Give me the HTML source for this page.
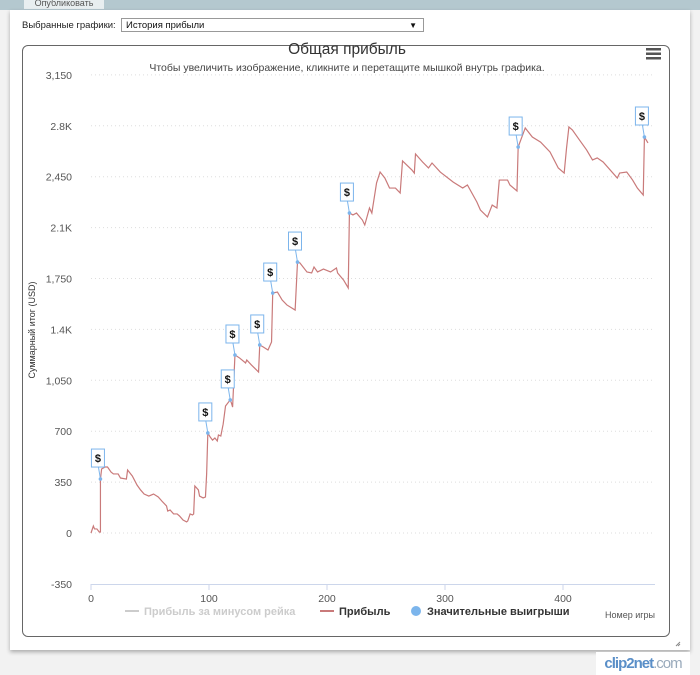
<!DOCTYPE html>
<html><head><meta charset="utf-8">
<style>
body{margin:0;width:700px;height:675px;background:#f2f2f2;font-family:"Liberation Sans","DejaVu Sans",sans-serif;position:relative;overflow:hidden}
.top{position:absolute;left:0;top:0;width:700px;height:10px;background:#b4c8cf}
.tab{position:absolute;left:24px;top:0;width:80px;height:9px;background:#e8eef0;font-size:9px;color:#555;text-align:center;line-height:6px;overflow:hidden}
.panel{position:absolute;left:10px;top:10px;width:680px;height:640px;background:#fff;box-shadow:0 2px 4px rgba(0,0,0,.3)}
.sel-label{position:absolute;left:22px;top:20px;font-size:9.5px;color:#222}
.sel{position:absolute;left:121px;top:18px;width:303px;height:14px;border:1px solid #999;background:#fff;font-size:9.5px;line-height:14px;padding-left:4px;box-sizing:border-box;color:#111}
.sel span{position:absolute;right:6px;top:0;font-size:8px}
.chart{position:absolute;left:22px;top:45px;width:648px;height:592px;border:1px solid #666;border-radius:6px;box-sizing:border-box}
.logo{position:absolute;left:596px;top:652px;width:94px;height:23px;background:#fff;font-size:15px;line-height:23px;text-align:center;color:#5a8fc8;font-weight:bold;letter-spacing:-1px}
.logo i{font-style:normal;color:#9ab;font-weight:normal}
</style></head><body>
<div class="top"><div class="tab">Опубликовать</div></div>
<div class="panel"></div>
<div class="sel-label">Выбранные графики:</div>
<div class="sel">История прибыли<span>▼</span></div>
<div class="chart"></div>
<svg id="svg" width="700" height="675" style="position:absolute;left:0;top:0"></svg>
<div class="logo">clip2net<i>.com</i></div>
<script>
const games=[0,2,3,5,7,8,8,9,12,14,17,19,23,25,30,31,35,39,42,45,49,53,57,60,64,65,67,70,73,75,78,81,82,84,86,87,88,91,92,95,97,98,99,101,103,105,107,108,110,112,113,114,118,119,120,122,126,131,132,136,142,143,146,150,153,154,158,162,166,173,175,177,183,187,189,192,197,203,208,209,214,218,219,222,225,230,232,236,238,242,245,249,253,258,262,264,272,274,275,281,286,289,296,307,315,319,327,330,336,340,344,346,353,355,361,362,368,374,381,389,396,401,403,405,408,414,420,425,429,434,446,448,454,459,463,468,469,472];
const profit=[0,48,28,28,7,7,371,440,454,454,419,406,406,378,371,433,392,330,296,268,254,268,248,220,186,151,158,131,131,117,89,76,83,131,124,131,323,296,254,241,248,406,688,660,639,653,633,674,667,749,811,873,915,894,866,1224,1203,1169,1190,1155,1107,1293,1279,1258,1313,1650,1657,1602,1568,1533,1863,1857,1795,1788,1829,1795,1815,1795,1822,1788,1740,1685,2200,2187,2200,2152,2118,2235,2200,2407,2482,2441,2372,2372,2338,2558,2496,2475,2606,2551,2510,2544,2482,2413,2372,2393,2276,2221,2173,2255,2235,2427,2427,2393,2352,2654,2785,2723,2688,2620,2510,2475,2647,2792,2771,2702,2634,2565,2579,2551,2441,2475,2482,2427,2372,2324,2723,2682];
const flagIdx=[6,42,52,55,61,65,70,82,115,136];
const yTicks=[-350,0,350,700,1050,1400,1750,2100,2450,2800,3150];
const yLabels=["-350","0","350","700","1,050","1.4K","1,750","2.1K","2,450","2.8K","3,150"];
const xTicks=[0,100,200,300,400];
const NS="http://www.w3.org/2000/svg";
const svg=document.getElementById('svg');
const X=g=>91+g*1.18, Y=v=>533-v*0.14543;
function mk(t,a,txt){const e=document.createElementNS(NS,t);for(const k in a)e.setAttribute(k,a[k]);if(txt!=null)e.textContent=txt;svg.appendChild(e);return e;}
let e;
e=mk('text',{x:347,y:54,'text-anchor':'middle','font-size':15.5,fill:'#333'},'Общая прибыль');


e=mk('text',{x:347,y:71,'text-anchor':'middle','font-size':10.5,fill:'#444'},'Чтобы увеличить изображение, кликните и перетащите мышкой внутрь графика.');


const menu=mk('g',{});


for(let i=0;i<3;i++){const r=document.createElementNS(NS,'rect');r.setAttribute('x',646);r.setAttribute('y',48+i*4.5);r.setAttribute('width',15);r.setAttribute('height',2.5);r.setAttribute('fill','#555');menu.appendChild(r);}
yTicks.forEach((v,i)=>{
  if(v!==-350){e=mk('line',{x1:91,x2:655,y1:Y(v),y2:Y(v),stroke:'#ddd','stroke-dasharray':'1,3'});
  
  }
  e=mk('text',{x:72,y:Y(v)+4,'text-anchor':'end','font-size':10.5,fill:'#555'},yLabels[i]);
  
  
});
e=mk('line',{x1:91,x2:655,y1:584.5,y2:584.5,stroke:'#ccd6eb'});


xTicks.forEach(g=>{
  e=mk('line',{x1:X(g),x2:X(g),y1:584,y2:590,stroke:'#ccd6eb'});
  
  
  e=mk('text',{x:X(g),y:602,'text-anchor':'middle','font-size':10.5,fill:'#555'},String(g));
  
  
});
e=mk('text',{x:0,y:0,'font-size':9,fill:'#333','text-anchor':'middle',transform:'translate(35,330) rotate(-90)'},'Суммарный итог (USD)');


e=mk('text',{x:655,y:618,'text-anchor':'end','font-size':9,fill:'#555'},'Номер игры');


e=mk('polyline',{points:games.map((g,i)=>X(g)+','+Y(profit[i])).join(' '),fill:'none',stroke:'#c97a7a','stroke-width':1.2});


flagIdx.forEach(i=>{
  const px=X(games[i]),py=Y(profit[i]);
  e=mk('line',{x1:px,x2:px-2,y1:py,y2:py-12,stroke:'#7cb5ec','stroke-width':1});
  
  
  e=mk('circle',{cx:px,cy:py,r:1.8,fill:'#7cb5ec'});
  
  
  e=mk('rect',{x:px-9,y:py-30,width:13,height:18,fill:'#fff',stroke:'#7cb5ec','stroke-width':1});
  
  
  e=mk('text',{x:px-2.5,y:py-17,'text-anchor':'middle','font-size':11,'font-weight':'bold',fill:'#111'},'$');
  
  
});
const leg=[[125,'line','#ccc','Прибыль за минусом рейка','#ccc'],[320,'line','#c97a7a','Прибыль','#333'],[412,'dot','#7cb5ec','Значительные выигрыши','#333']];
leg.forEach(l=>{
  const g=mk('g',{});
  
  
  if(l[1]==='line'){const r=document.createElementNS(NS,'line');r.setAttribute('x1',l[0]);r.setAttribute('x2',l[0]+14);r.setAttribute('y1',611);r.setAttribute('y2',611);r.setAttribute('stroke',l[2]);r.setAttribute('stroke-width',2);g.appendChild(r);}
  else{const c=document.createElementNS(NS,'circle');c.setAttribute('cx',l[0]+4);c.setAttribute('cy',611);c.setAttribute('r',5);c.setAttribute('fill',l[2]);g.appendChild(c);}
  const t=document.createElementNS(NS,'text');t.setAttribute('x',l[0]+(l[1]==='line'?19:15));t.setAttribute('y',615);t.setAttribute('font-size',11);t.setAttribute('font-weight','bold');t.setAttribute('fill',l[4]);t.textContent=l[3];g.appendChild(t);
});
e=mk('path',{d:'M676 646 L680 642 M678 646 L680 644',stroke:'#888','stroke-width':1});


</script>
</body></html>
